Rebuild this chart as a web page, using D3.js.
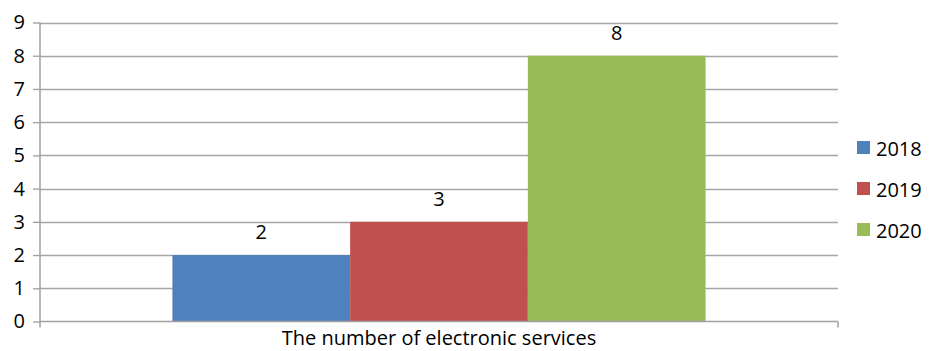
<!DOCTYPE html>
<html><head><meta charset="utf-8">
<script src="https://cdn.jsdelivr.net/npm/d3@7"></script>
<style>body{margin:0;background:#fff}text{font-family:"Open Sans",sans-serif}</style>
</head><body><svg id="c" width="936" height="351"></svg>
<script>
const categories = ["The number of electronic services"];
const seriesNames = ["2018", "2019", "2020"];
const seriesValues = [2, 3, 8];
const colors = ["#4F81BD", "#C0504D", "#9BBB59"];
const yTicks = [0,1,2,3,4,5,6,7,8,9];

const FONT = "'Open Sans', sans-serif";
const FS = 20;
const svg = d3.select("#c");
const L = 40, R = 838, T = 22.5, B = 321.5;
const y = d3.scaleLinear().domain([0, 9]).range([B, T]);
const x0 = d3.scaleBand().domain(categories).range([L, R]).paddingInner(0).paddingOuter(0);
const x1 = d3.scaleBand().domain(seriesNames).range([0, x0.bandwidth()]).paddingInner(0).paddingOuter(0.745);

// gridlines
svg.append("g").selectAll("line").data(yTicks.filter(d=>d>0)).join("line")
  .attr("x1", L).attr("x2", R).attr("y1", d=>Math.round(y(d))+0.5).attr("y2", d=>Math.round(y(d))+0.5)
  .attr("stroke", "#A6A6A6").attr("stroke-width", 1.3);

// bars
const g = svg.append("g");
g.selectAll("rect").data(seriesValues).join("rect")
  .attr("x", (d,i)=>x0(categories[0]) + x1(seriesNames[i]))
  .attr("width", x1.bandwidth())
  .attr("y", d=>y(d)).attr("height", d=>B - y(d))
  .attr("fill", (d,i)=>colors[i]);
g.selectAll("text").data(seriesValues).join("text")
  .attr("x", (d,i)=>x0(categories[0]) + x1(seriesNames[i]) + x1.bandwidth()/2)
  .attr("y", d=>y(d) - 23).attr("dy", "0.35em")
  .attr("text-anchor", "middle").attr("font-size", FS).attr("fill", "#000")
  .text(d=>d);

// y axis
const ya = svg.append("g").attr("transform", `translate(${L},0)`)
  .call(d3.axisLeft(y).tickValues(yTicks).tickSize(7).tickPadding(8).tickFormat(d3.format("d")));
ya.select(".domain").remove();
ya.selectAll(".tick line").attr("stroke", "#A0A0A0").attr("stroke-width", 1.3);
ya.selectAll(".tick text").attr("font-size", FS).attr("fill", "#000").style("font-family", FONT);
svg.append("line").attr("x1", L).attr("x2", L).attr("y1", T).attr("y2", B+6)
  .attr("stroke", "#A0A0A0").attr("stroke-width", 1.5);

// x axis
const xa = svg.append("g").attr("transform", `translate(0,${B})`)
  .call(d3.axisBottom(x0).tickSize(0).tickPadding(9));
xa.select(".domain").attr("stroke", "#A0A0A0").attr("stroke-width", 1.5).attr("d", `M${L},0H${R}`);
xa.selectAll(".tick text").attr("font-size", FS).attr("fill", "#000").style("font-family", FONT);
svg.append("line").attr("x1", R).attr("x2", R).attr("y1", B).attr("y2", B+6)
  .attr("stroke", "#A0A0A0").attr("stroke-width", 1.5);

// legend
const leg = svg.append("g").selectAll("g").data(seriesNames).join("g")
  .attr("transform", (d,i)=>`translate(857,${141 + i*41})`);
leg.append("rect").attr("width", 13).attr("height", 13).attr("fill", (d,i)=>colors[i]);
leg.append("text").attr("x", 19).attr("y", 8).attr("dy", "0.35em")
  .attr("font-size", FS).attr("fill", "#000").text(d=>d);
</script></body></html>
